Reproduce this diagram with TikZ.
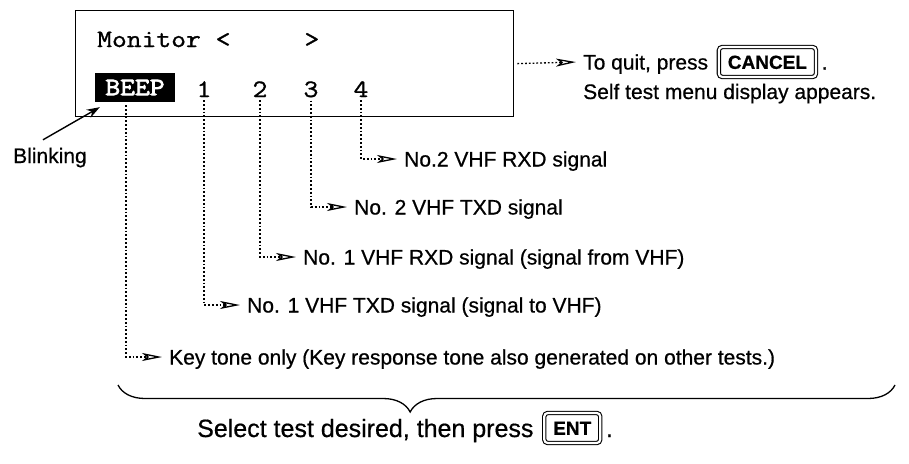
\documentclass[tikz,border=0pt]{standalone}
\usepackage{fontspec}
\setmainfont[FakeBold=0.6]{Liberation Sans}
\newfontfamily\lcdfont[FakeStretch=1.15,FakeBold=1.2]{Latin Modern Mono}
\newfontfamily\lcdbold[FakeStretch=1.15,FakeBold=3]{Latin Modern Mono}
\usetikzlibrary{arrows.meta,positioning,decorations.pathreplacing}
\newcommand\lblsize{\fontsize{21}{24}\selectfont}
\newcommand\lcdsize{\fontsize{25}{28}\selectfont}
\tikzset{
  lab/.style={font=\lblsize,inner xsep=5pt,inner ysep=0pt,text height=15pt,text depth=0pt},
  bigl/.style={font=\fontsize{25}{28}\selectfont,inner xsep=5pt,inner ysep=0pt,text height=18pt,text depth=0pt},
  lcd/.style={font=\lcdfont\lcdsize,inner sep=0pt},
  lead/.style={black,line width=1.3pt,dash pattern=on 1.8pt off 2pt,shorten <=3pt,shorten >=2pt,
    -{Stealth[open,length=20pt,width=8pt,inset=5pt]}},
  keycap/.style={draw,double,double distance=2.2pt,line width=1.1pt,rounded corners=3.5pt,
    font=\bfseries\fontsize{19}{21}\selectfont,minimum height=30pt,inner xsep=9pt,
    text height=13.7pt,text depth=0pt},
}
\begin{document}
\begin{tikzpicture}[x=1pt,y=-1pt]
  \useasboundingbox (0,0) rectangle (909,463);
  \node[draw,line width=1.4pt,minimum width=438pt,minimum height=106pt,anchor=north west,inner sep=0pt] (disp) at (75,10) {};
  \node[lcd,anchor=base west] (mon) at (97,47) {Monitor~<~~~~~>};
  \node[fill=black,text=white,font=\lcdbold\lcdsize,minimum width=80pt,minimum height=29pt,inner sep=0pt] (beep) at (135,87.5) {BEEP};
  \node[lcd,anchor=base] (n1) at (204,97) {1};
  \node[lcd,anchor=base] (n2) at (260,97) {2};
  \node[lcd,anchor=base] (n3) at (311,97) {3};
  \node[lcd,anchor=base] (n4) at (361,97) {4};
  \node[lab,anchor=west] (quit) at (578,62) {To quit, press};
  \node[keycap,right=5pt of quit] (cancel) {CANCEL};
  \node[lab,right=0pt of cancel] (qdot) {.};
  \node[lab,anchor=base west] (selfmsg) at (578,99) {Self test menu display appears.};
  \node[lab,anchor=base west,inner xsep=0pt] (blink) at (13,163) {Blinking};
  \node[lab,anchor=west] (l4) at (399,159) {No.2 VHF RXD signal};
  \node[lab,anchor=west] (l3) at (349,207) {No. 2 VHF TXD signal};
  \node[lab,anchor=west] (l2) at (298,257) {No. 1 VHF RXD signal (signal from VHF)};
  \node[lab,anchor=west] (l1) at (242,305) {No. 1 VHF TXD signal (signal to VHF)};
  \node[lab,anchor=west] (l0) at (164,357) {Key tone only (Key response tone also generated on other tests.)};
  \node[bigl,anchor=west] (sel) at (192,428) {Select test desired, then press};
  \node[keycap,right=5pt of sel] (ent) {ENT};
  \node[bigl,right=0pt of ent] (edot) {.};
  \draw[lead] (disp.east) -- (quit.west);
  \draw[lead] (n4.south) |- (l4.west);
  \draw[lead] (n3.south) |- (l3.west);
  \draw[lead] (n2.south) |- (l2.west);
  \draw[lead] (n1.south) |- (l1.west);
  \draw[lead] ([xshift=-9pt]beep.south) |- (l0.west);
  \draw[line width=1.4pt,-{Stealth[length=13pt,width=9pt]}] ([xshift=-7pt,yshift=8pt]blink.north) -- ([xshift=5pt,yshift=-5pt]beep.south west);
  \draw[line width=1.3pt,decorate,decoration={brace,mirror,amplitude=27pt,aspect=0.376}] (118,385) -- (895,385);
\end{tikzpicture}
\end{document}
